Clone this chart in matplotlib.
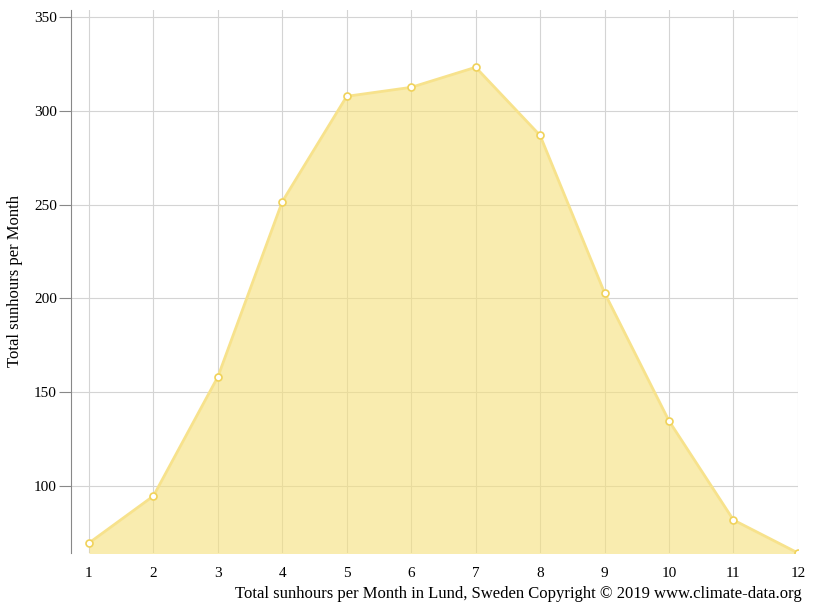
import matplotlib
matplotlib.use("Agg")
import matplotlib.pyplot as plt

months = list(range(1, 13))
sunhours = [69.3, 94.4, 158, 251.6, 307.8, 312.6, 323.3, 286.9, 202.9, 134.5, 81.6, 64]
yticks = [100, 150, 200, 250, 300, 350]

plt.rcParams["font.family"] = ["Liberation Serif", "DejaVu Serif"]

fig = plt.figure(figsize=(8.15, 6.11), dpi=100)
ax = fig.add_axes([0.087, 0.095, 0.892, 0.889])

ax.fill_between(months, sunhours, 0, color="#f6e07a", alpha=0.6, lw=0, zorder=2)
ax.plot(months, sunhours, color="#f7e28c", lw=2, zorder=3)
ax.plot(months, sunhours, "o", ms=5, mfc="white", mec="#f0d25a", mew=1.2, zorder=4)

ax.set_xlim(0.72, 12)
ax.set_ylim(64, 354)
ax.set_xticks(months)
ax.set_yticks(yticks)
ax.grid(True, color="#d4d4d4", lw=0.8, zorder=0)
ax.set_axisbelow(True)
for s in ["top", "right", "bottom"]:
    ax.spines[s].set_visible(False)
ax.spines["left"].set_color("#888888")
ax.tick_params(axis="x", length=0, labelsize=11, pad=10)
ax.tick_params(axis="y", length=9, color="#888888", labelsize=11, direction="out", pad=1)
ax.set_ylabel("Total sunhours per Month", fontsize=12, labelpad=8)
fig.text(0.984, 0.015, "Total sunhours per Month in Lund, Sweden Copyright \u00a9 2019 www.climate-data.org",
         ha="right", va="bottom", fontsize=12)

fig.savefig("out.png", dpi=100)
